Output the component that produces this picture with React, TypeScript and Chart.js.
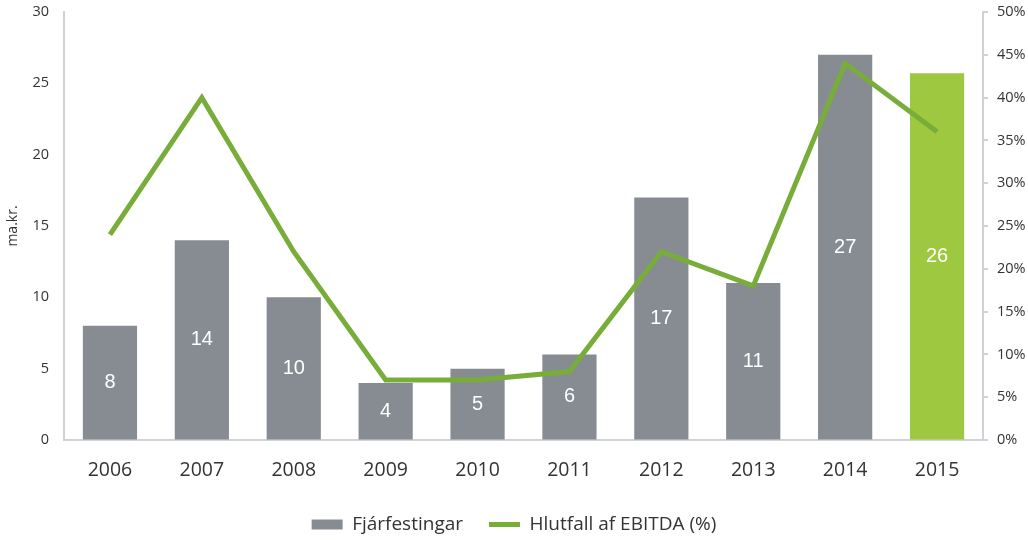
import React, { useEffect, useRef } from "react";
import { Chart, registerables } from "chart.js";

Chart.register(...registerables);

const categories = ["2006", "2007", "2008", "2009", "2010", "2011", "2012", "2013", "2014", "2015"];
const investments = [8, 14, 10, 4, 5, 6, 17, 11, 27, 25.7];
const ebitdaShare = [24, 40, 22, 7, 7, 8, 22, 18, 44, 36];
const barLabel = "Fjárfestingar";
const lineLabel = "Hlutfall af EBITDA (%)";

const GRAY = "#878c92";
const LIGHT_GREEN = "#9dc83f";
const LINE_GREEN = "#78ad3a";
const AXIS = "#cfd3d8";
const TEXT = "#333333";
const FONT = "'Open Sans', sans-serif";

const barLabelsPlugin = {
  id: "barLabels",
  afterDatasetsDraw(chart: any) {
    const meta = chart.getDatasetMeta(0);
    const ctx = chart.ctx;
    ctx.save();
    ctx.fillStyle = "#ffffff";
    ctx.font = "20px 'Liberation Sans', Arial, sans-serif";
    ctx.textAlign = "center";
    ctx.textBaseline = "middle";
    meta.data.forEach((el: any, i: number) => {
      const v = chart.data.datasets[0].data[i];
      ctx.fillText(String(Math.round(v)), el.x, (el.y + el.base) / 2);
    });
    ctx.restore();
  },
};

const noVerticalPadding = (s: any, width: number) => {
  s.width = width;
  s.paddingTop = 0;
  s.paddingBottom = 0;
};

export default function App() {
  const ref = useRef<HTMLCanvasElement | null>(null);
  useEffect(() => {
    document.body.style.margin = "0";
    const chart = new Chart(ref.current as HTMLCanvasElement, {
      type: "bar",
      data: {
        labels: categories,
        datasets: [
          {
            type: "bar",
            label: barLabel,
            data: investments,
            backgroundColor: investments.map((_, i) => (i === investments.length - 1 ? LIGHT_GREEN : GRAY)),
            yAxisID: "y",
            barPercentage: 0.59,
            categoryPercentage: 1,
            order: 0,
          } as any,
          {
            type: "line",
            label: lineLabel,
            data: ebitdaShare,
            borderColor: LINE_GREEN,
            backgroundColor: LINE_GREEN,
            borderWidth: 5,
            pointRadius: 0,
            tension: 0,
            yAxisID: "y1",
            order: -1,
          } as any,
        ],
      },
      options: {
        animation: false,
        responsive: true,
        maintainAspectRatio: false,
        layout: { padding: { top: 12, bottom: -4, left: 0, right: 0 } },
        plugins: {
          tooltip: { enabled: false },
          legend: {
            position: "bottom",
            labels: {
              usePointStyle: true,
              pointStyleWidth: 31,
              boxHeight: 10,
              padding: 26,
              color: TEXT,
              font: { family: FONT, size: 19 },
              generateLabels: () => [
                {
                  text: barLabel,
                  fillStyle: GRAY,
                  strokeStyle: GRAY,
                  lineWidth: 0,
                  pointStyle: "rect",
                  datasetIndex: 0,
                  fontColor: TEXT,
                } as any,
                {
                  text: lineLabel,
                  fillStyle: LINE_GREEN,
                  strokeStyle: LINE_GREEN,
                  lineWidth: 5,
                  pointStyle: "line",
                  datasetIndex: 1,
                  fontColor: TEXT,
                } as any,
              ],
            },
          },
        },
        scales: {
          x: {
            grid: { display: false },
            border: { display: true, color: AXIS, width: 2 },
            ticks: {
              color: TEXT,
              padding: 11,
              font: { family: FONT, size: 19.5 },
            },
            afterFit: (s: any) => {
              s.height = 49;
            },
          },
          y: {
            position: "left",
            min: 0,
            max: 30,
            ticks: {
              stepSize: 5,
              color: TEXT,
              padding: 15,
              font: { family: FONT, size: 14.5 },
            },
            grid: { display: true, drawOnChartArea: false, drawTicks: false, color: AXIS },
            border: { display: true, color: AXIS, width: 2 },
            title: {
              display: true,
              text: "ma.kr.",
              color: TEXT,
              padding: { top: 5, bottom: 0 },
              font: { family: FONT, size: 14 },
            },
            afterFit: (s: any) => noVerticalPadding(s, 64),
          },
          y1: {
            position: "right",
            min: 0,
            max: 50,
            ticks: {
              stepSize: 5,
              color: TEXT,
              padding: 9,
              font: { family: FONT, size: 14.5 },
              callback: (v: any) => v + "%",
            },
            grid: { display: true, drawOnChartArea: false, drawTicks: true, tickLength: 5, color: AXIS, lineWidth: 2 },
            border: { display: true, color: AXIS, width: 2 },
            afterFit: (s: any) => noVerticalPadding(s, 45),
          },
        },
      },
      plugins: [barLabelsPlugin],
    });
    return () => chart.destroy();
  }, []);
  return (
    <div style={{ position: "absolute", left: 0, top: 0, width: 1028, height: 540 }}>
      <canvas ref={ref} />
    </div>
  );
}
